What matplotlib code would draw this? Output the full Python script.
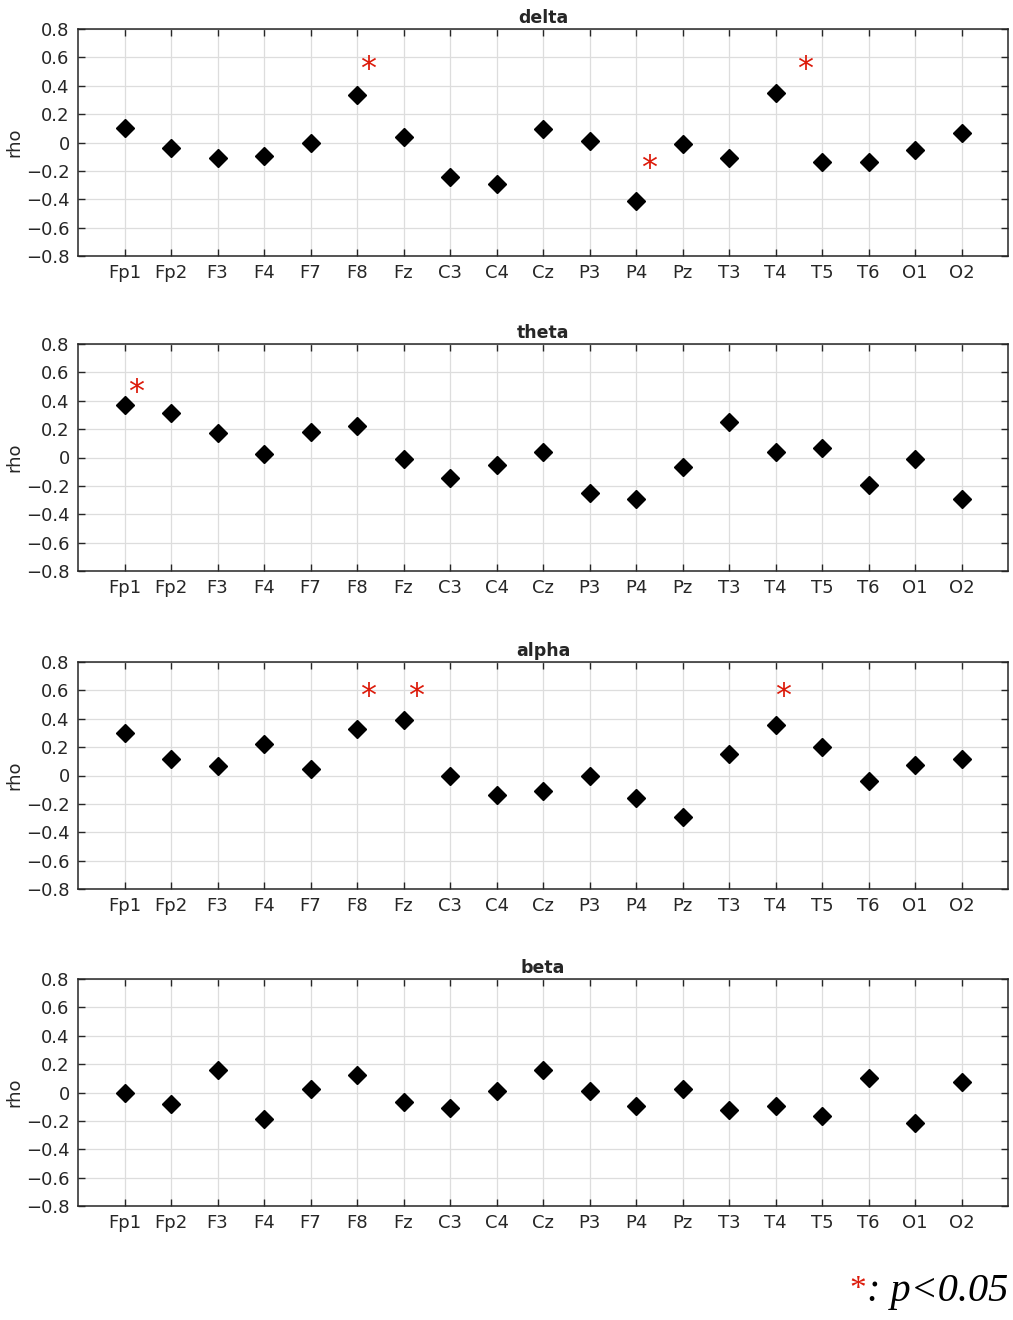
import numpy as np
import matplotlib
matplotlib.use('Agg')
import matplotlib.pyplot as plt

# channels and correlation values per band
channels = ['Fp1', 'Fp2', 'F3', 'F4', 'F7', 'F8', 'Fz', 'C3', 'C4', 'Cz',
            'P3', 'P4', 'Pz', 'T3', 'T4', 'T5', 'T6', 'O1', 'O2']
bands = ['delta', 'theta', 'alpha', 'beta']

delta = [0.105, -0.04, -0.107, -0.095, 0.0, 0.333, 0.038, -0.24, -0.295, 0.093,
         0.012, -0.415, -0.014, -0.107, 0.347, -0.138, -0.135, -0.055, 0.067]
theta = [0.368, 0.315, 0.171, 0.026, 0.183, 0.225, -0.014, -0.148, -0.054, 0.04,
         -0.249, -0.291, -0.066, 0.251, 0.04, 0.068, -0.197, -0.012, -0.291]
alpha = [0.301, 0.118, 0.064, 0.221, 0.049, 0.327, 0.393, -0.005, -0.136, -0.108,
         -0.002, -0.162, -0.294, 0.155, 0.355, 0.198, -0.042, 0.075, 0.118]
beta = [0.0, -0.083, 0.159, -0.19, 0.026, 0.121, -0.069, -0.107, 0.01, 0.159,
        0.01, -0.095, 0.024, -0.124, -0.095, -0.164, 0.105, -0.214, 0.076]
values = [delta, theta, alpha, beta]

# significance stars: (channel, x shift, y)
stars = {
    'delta': [('F8', 0.23, 0.56), ('P4', 0.27, -0.135), ('T4', 0.63, 0.56)],
    'theta': [('Fp1', 0.24, 0.505)],
    'alpha': [('F8', 0.23, 0.605), ('Fz', 0.26, 0.605), ('T4', 0.17, 0.605)],
    'beta': [],
}

yticks = [-0.8, -0.6, -0.4, -0.2, 0, 0.2, 0.4, 0.6, 0.8]
ytick_labels = ['\u22120.8', '\u22120.6', '\u22120.4', '\u22120.2', '0',
                '0.2', '0.4', '0.6', '0.8']

W, H = 1013, 1320
fig = plt.figure(figsize=(W / 100, H / 100), dpi=100)
plt.rcParams['font.family'] = ['DejaVu Sans']
dark = '#262626'
red = '#dc1a0a'

tops = [29, 344, 662, 979]
for band, vals, top in zip(bands, values, tops):
    ax = fig.add_axes([78 / W, 1 - (top + 227) / H, 930 / W, 227 / H])
    x = np.arange(1, len(channels) + 1)
    ax.plot(x, vals, 'D', color='black', markersize=9, zorder=3)
    for ch, dx, y in stars[band]:
        ax.annotate('*', (channels.index(ch) + 1 + dx, y), xytext=(0, -5),
                    textcoords='offset points', color=red, fontsize=23,
                    ha='center', va='center', zorder=4)
    ax.set_xlim(0, 20)
    ax.set_ylim(-0.8, 0.8)
    ax.set_xticks(x)
    ax.set_xticklabels(channels)
    ax.set_yticks(yticks)
    ax.set_yticklabels(ytick_labels)
    ax.grid(True, color='#dddddd', linewidth=0.9)
    ax.set_axisbelow(True)
    ax.tick_params(direction='in', top=True, right=True, length=5,
                   width=1.0, color=dark, labelsize=13, labelcolor=dark, pad=6)
    for s in ax.spines.values():
        s.set_color(dark)
        s.set_linewidth(1.1)
    ax.set_ylabel('rho', fontsize=13, color=dark, labelpad=2)
    ax.set_title(band, fontsize=12.5, fontweight='bold', color=dark, pad=4)

t = fig.text(1008 / W, 1 - 1292 / H, ': p<0.05', fontsize=29, ha='right',
             va='center', style='italic', family='Liberation Serif')
fig.canvas.draw()
bb = t.get_window_extent()
fig.text((bb.x0 - 1) / W, bb.y1 / H - 0.001, '*', fontsize=24, color=red,
         ha='right', va='top', family='Liberation Serif')

fig.savefig('out.png', dpi=100)
